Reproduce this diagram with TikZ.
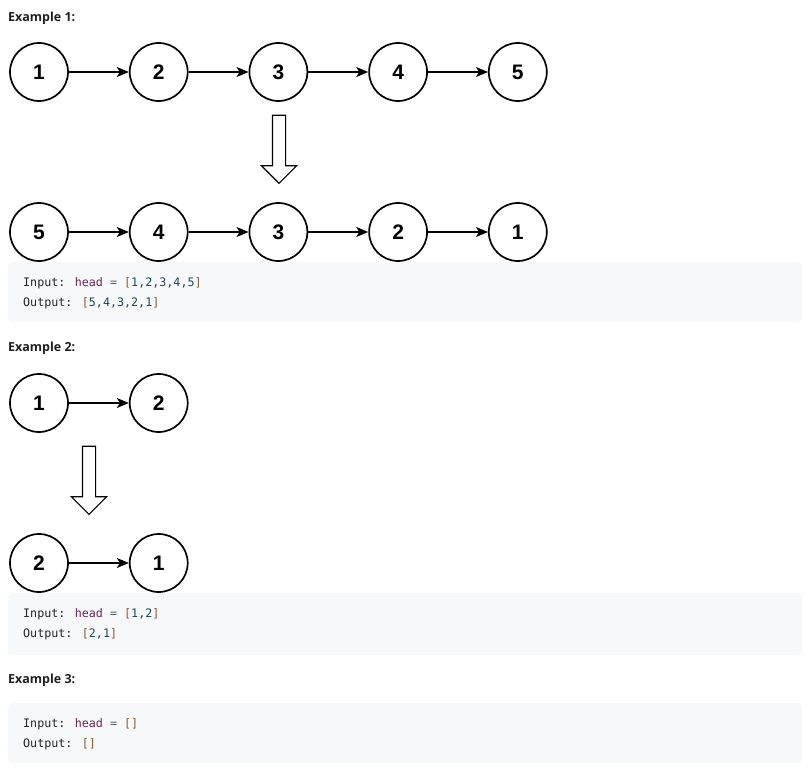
\documentclass[tikz,border=0pt]{standalone}
\usepackage{fontspec}
\setmainfont{Liberation Sans}
\newfontfamily\headfont{Open Sans}
\newfontfamily\codefont{DejaVu Sans Mono}
\usepackage{tikz}
\usetikzlibrary{arrows.meta,positioning,shapes.arrows}

\definecolor{codebg}{HTML}{F7F8FA}
\definecolor{codetxt}{HTML}{1E272C}
\definecolor{codekey}{HTML}{6B2552}
\definecolor{codeop}{HTML}{4F5D65}
\definecolor{codebr}{HTML}{8A5A2E}
\definecolor{codenum}{HTML}{184A5C}
\definecolor{headtxt}{HTML}{1F1F1F}

\begin{document}
\begin{tikzpicture}[x=1pt, y=-1pt,
listnode/.style={circle, draw, line width=1.7pt, minimum size=58pt, inner sep=0pt, font=\fontsize{21}{21}\selectfont\bfseries},
link/.style={-{Stealth[length=12pt, width=10pt, inset=3pt]}, line width=1.4pt},
turn/.style={single arrow, draw, line width=1.1pt, shape border rotate=270, minimum height=68pt, inner sep=6pt, single arrow head extend=11pt, single arrow head indent=0pt},
codebox/.style={fill=codebg, rounded corners=4pt},
heading/.style={anchor=base west, inner sep=0pt, text=headtxt, font=\headfont\fontsize{12.5}{12.5}\selectfont\bfseries},
codeline/.style={anchor=base west, inner sep=0pt, text=codetxt, font=\codefont\fontsize{11.7}{11.7}\selectfont}
]
\useasboundingbox (0,0) rectangle (811,773);

% Example 1
\node[heading] (title1) at (8,21.5) {Example 1:};
\node[listnode] (a1) at (39,72) {1};
\node[listnode, right=60pt of a1] (a2) {2};
\node[listnode, right=60pt of a2] (a3) {3};
\node[listnode, right=60pt of a3] (a4) {4};
\node[listnode, right=60pt of a4] (a5) {5};
\draw[link] (a1) -- (a2);
\draw[link] (a2) -- (a3);
\draw[link] (a3) -- (a4);
\draw[link] (a4) -- (a5);

\node[turn] (turn1) at (279,146) {};

\node[listnode] (b5) at (39,232) {5};
\node[listnode, right=60pt of b5] (b4) {4};
\node[listnode, right=60pt of b4] (b3) {3};
\node[listnode, right=60pt of b3] (b2) {2};
\node[listnode, right=60pt of b2] (b1) {1};
\draw[link] (b5) -- (b4);
\draw[link] (b4) -- (b3);
\draw[link] (b3) -- (b2);
\draw[link] (b2) -- (b1);

\fill[codebox] (8,262) rectangle (802,322);
\node[codeline] (in1) at (23,286.5) {Input: \textcolor{codekey}{head} \textcolor{codeop}{=} \textcolor{codebr}{[}\textcolor{codenum}{1,2,3,4,5}\textcolor{codebr}{]}};
\node[codeline] (out1) at (23,306.5) {Output: \textcolor{codebr}{[}\textcolor{codenum}{5,4,3,2,1}\textcolor{codebr}{]}};

% Example 2
\node[heading] (title2) at (8,351.5) {Example 2:};
\node[listnode] (c1) at (39,403) {1};
\node[listnode, right=60pt of c1] (c2) {2};
\draw[link] (c1) -- (c2);

\node[turn] (turn2) at (89,477) {};

\node[listnode] (d2) at (39,563) {2};
\node[listnode, right=60pt of d2] (d1) {1};
\draw[link] (d2) -- (d1);

\fill[codebox] (8,593) rectangle (802,655);
\node[codeline] (in2) at (23,617.5) {Input: \textcolor{codekey}{head} \textcolor{codeop}{=} \textcolor{codebr}{[}\textcolor{codenum}{1,2}\textcolor{codebr}{]}};
\node[codeline] (out2) at (23,637.5) {Output: \textcolor{codebr}{[}\textcolor{codenum}{2,1}\textcolor{codebr}{]}};

% Example 3
\node[heading] (title3) at (8,683.5) {Example 3:};
\fill[codebox] (8,703) rectangle (802,763);
\node[codeline] (in3) at (23,727.5) {Input: \textcolor{codekey}{head} \textcolor{codeop}{=} \textcolor{codebr}{[]}};
\node[codeline] (out3) at (23,747.5) {Output: \textcolor{codebr}{[]}};

\end{tikzpicture}
\end{document}
